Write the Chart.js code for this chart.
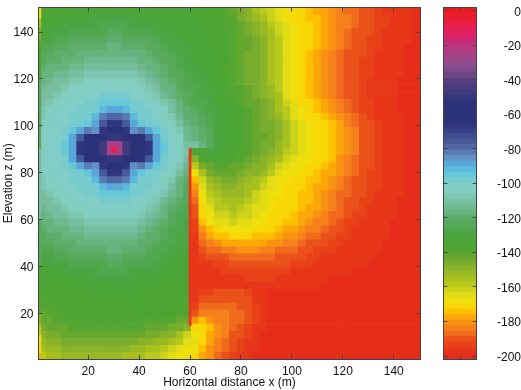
<!DOCTYPE html>
<html><head><meta charset="utf-8">
<style>html,body{margin:0;padding:0;background:#fff;width:521px;height:390px;overflow:hidden}canvas{position:absolute;top:0}</style>
<script src="https://cdn.jsdelivr.net/npm/chart.js@4"></script></head>
<body><canvas id="main" width="430" height="390" style="left:0"></canvas><canvas id="bar" width="91" height="390" style="left:430px"></canvas>
<script>
const xLabel="Horizontal distance x (m)", zLabel="Elevation z (m)";
const xTicks=[20,40,60,80,100,120,140], zTicks=[20,40,60,80,100,120,140];
const barTicks=[0,-20,-40,-60,-80,-100,-120,-140,-160,-180,-200];
const columnX=[2,5,8,11,14,17,20,23,26,29,32,35,38,41,44,47,50,53,56,59,62,65,68,71,74,77,80,83,86,89,92,95,98,101,104,107,110,113,116,119,122,125,128,131,134,137,140,143,146,149];
const rowZ=[149,146,143,140,137,134,131,128,125,122,119,116,113,110,107,104,101,98,95,92,89,86,83,80,77,74,71,68,65,62,59,56,53,50,47,44,41,38,35,32,29,26,23,20,17,14,11,8,5,2];
// levels below zero, left to right, one list per elevation
const z149=[136,135,135,135,134,134,134,133,133,133,133,133,134,134,134,134,134,134,134,134,134,135,137,138,140,143,147,150,154,159,163,166,169,171,173,175,177,179,181,184,186,188,190,192,194,196,197,198,198,199];
const z146=[135,134,134,133,132,132,131,131,131,131,131,131,131,132,132,133,133,134,134,134,134,135,136,138,139,141,145,148,151,156,161,165,168,170,172,174,176,178,180,183,185,188,190,192,194,195,197,198,198,199];
const z143=[134,133,132,131,130,130,129,129,128,128,128,128,129,129,130,131,132,133,133,134,134,135,136,137,139,140,143,146,149,153,158,163,166,168,171,173,175,178,180,183,185,188,190,192,194,195,197,198,198,199];
const z140=[132,131,130,129,128,127,127,126,126,125,125,126,126,127,128,129,130,131,132,133,133,134,135,137,138,140,142,145,148,151,156,161,165,167,170,173,175,178,180,184,186,189,191,192,194,196,197,198,198,199];
const z137=[130,129,127,126,125,124,124,123,123,122,122,123,123,124,125,127,129,130,131,132,133,134,135,137,138,139,142,144,147,150,155,159,164,167,170,173,175,178,181,184,187,190,191,193,194,196,197,198,198,199];
const z134=[128,126,125,124,122,121,121,120,120,119,119,120,120,121,123,125,127,129,130,131,132,133,135,136,138,140,142,144,147,150,154,159,164,167,170,173,176,179,182,185,188,190,192,193,195,196,197,198,199,199];
const z131=[125,124,122,121,120,119,118,117,117,117,117,117,118,119,121,123,125,127,129,131,132,133,134,136,138,140,142,145,147,150,154,159,164,167,170,174,177,180,183,186,189,191,192,194,196,197,198,198,199,199];
const z128=[123,121,120,118,117,116,115,114,114,114,114,114,115,117,119,121,123,125,128,130,132,133,134,136,138,140,142,145,147,150,154,159,165,167,171,174,177,181,184,187,189,191,193,194,196,197,198,198,199,199];
const z125=[121,119,117,116,114,113,112,111,111,111,111,111,112,114,116,119,122,124,127,129,131,132,134,136,139,140,143,145,147,150,155,160,165,168,172,175,178,181,184,187,190,192,193,195,196,197,198,198,199,199];
const z122=[118,117,115,113,112,110,109,108,108,108,108,108,109,111,114,117,120,123,125,128,130,131,133,135,138,140,142,145,147,150,155,160,165,168,172,175,178,182,185,188,190,192,194,195,197,198,198,198,199,199];
const z119=[116,114,112,111,109,108,106,106,105,105,105,105,106,108,111,114,118,121,124,127,129,131,133,135,138,140,142,145,147,149,154,160,166,169,173,176,179,182,185,188,190,192,194,196,197,198,198,199,199,199];
const z116=[114,112,110,108,106,105,104,103,102,101,101,102,103,105,108,112,116,119,123,126,128,130,132,134,137,139,141,144,146,148,152,158,165,168,172,175,178,181,184,187,189,192,194,196,197,198,198,199,199,199];
const z113=[112,110,108,106,104,102,101,100,99,98,98,99,100,102,105,109,114,118,122,125,127,129,131,133,136,138,140,143,145,148,151,157,164,167,171,174,177,180,183,186,189,192,194,196,197,198,198,199,199,199];
const z110=[110,108,106,103,102,100,99,98,96,94,94,96,98,99,101,104,107,112,119,124,126,128,130,132,135,137,139,142,144,147,150,155,162,166,170,172,175,178,181,184,187,190,193,195,197,198,198,199,199,199];
const z107=[108,106,104,102,100,98,98,97,91,88,88,91,97,98,99,102,106,111,117,122,124,126,129,131,134,136,138,140,143,146,149,154,160,166,169,171,174,177,180,183,186,189,193,195,197,198,198,199,199,199];
const z104=[107,105,103,101,99,98,97,92,83,78,78,83,92,97,98,100,104,109,115,120,122,125,128,130,133,136,138,140,143,145,148,152,158,164,168,170,172,175,178,181,185,188,191,194,196,197,198,198,199,199];
const z101=[106,104,102,100,98,97,96,90,75,68,68,75,90,96,97,98,102,106,112,118,120,123,126,129,132,135,137,139,142,145,147,149,155,161,166,169,171,173,176,179,183,186,189,192,195,197,198,198,199,199];
const z98=[105,103,100,98,96,90,82,85,66,60,60,66,85,82,90,96,99,103,108,115,118,122,125,129,132,134,137,139,142,145,147,149,155,161,166,168,171,173,176,179,182,185,189,192,194,196,198,198,199,199];
const z95=[105,102,100,97,90,75,64,62,62,50,50,62,62,64,75,90,97,101,106,113,116,120,124,129,132,134,136,139,142,144,146,149,155,161,166,168,170,173,176,179,182,185,189,192,194,196,198,198,199,199];
const z92=[104,102,100,96,88,68,60,58,48,25,25,48,58,60,68,88,96,100,104,110,112,118,124,130,133,135,137,140,143,145,147,151,156,162,166,168,170,172,175,179,182,185,189,192,194,196,198,198,199,199];
const z89=[104,102,100,96,88,68,60,58,48,25,25,48,58,60,68,88,96,100,104,108,135,132,131,133,135,136,139,141,144,146,149,153,158,163,166,168,170,172,175,179,182,185,189,192,194,196,198,198,199,199];
const z86=[105,102,100,97,90,75,64,62,62,50,50,62,62,64,75,90,97,101,106,112,150,138,135,135,136,138,141,143,146,148,151,156,161,165,167,169,171,173,176,180,183,186,189,192,194,196,198,198,199,199];
const z83=[105,103,100,98,96,90,82,85,66,60,60,66,85,82,90,96,99,102,108,114,160,147,142,139,140,142,144,146,148,150,154,161,165,167,169,171,173,175,178,181,184,187,190,192,194,196,197,198,199,199];
const z80=[106,104,102,100,98,97,96,90,75,68,68,75,90,96,97,98,101,106,112,117,168,155,147,143,142,143,146,148,150,152,158,164,167,169,170,172,174,177,179,182,185,188,190,193,195,196,197,198,199,199];
const z77=[107,105,103,101,99,98,97,92,83,78,78,83,92,97,98,100,104,109,118,122,175,163,152,148,145,147,150,152,154,158,164,167,169,171,172,174,176,178,181,184,186,189,191,193,195,196,197,198,199,199];
const z74=[108,106,104,102,100,98,98,97,91,88,88,91,97,98,99,102,106,111,118,123,180,165,156,151,148,149,151,154,157,161,165,168,170,171,173,175,177,179,182,185,187,190,192,194,195,197,198,198,199,199];
const z71=[110,108,106,103,102,100,99,98,96,94,94,96,98,99,101,104,107,113,119,124,183,167,160,155,152,151,153,157,161,165,167,169,171,172,174,175,178,180,183,186,188,190,192,194,196,197,198,198,199,199];
const z68=[112,110,108,106,104,102,101,100,99,98,98,99,100,102,105,109,113,117,121,125,187,169,163,158,155,154,155,159,163,165,168,170,171,173,175,176,178,181,183,186,189,191,193,195,197,198,198,199,199,199];
const z65=[114,112,110,108,106,105,104,103,102,101,101,102,103,105,108,112,116,120,124,127,190,170,165,160,158,157,158,161,164,166,168,170,172,173,175,177,179,181,184,187,190,192,194,196,197,198,198,199,199,199];
const z62=[116,114,112,111,109,108,106,106,105,105,105,105,106,108,111,115,119,123,126,128,192,172,167,163,161,160,161,163,165,168,170,172,173,175,177,178,181,183,186,188,191,194,195,197,197,198,198,199,199,199];
const z59=[118,117,115,113,112,110,109,108,108,108,108,108,109,111,114,118,121,125,127,129,194,175,168,165,164,163,164,165,167,169,171,173,175,175,178,180,183,185,188,190,193,195,197,197,198,198,199,199,199,199];
const z56=[121,119,117,116,114,113,112,111,111,111,111,111,112,114,117,120,123,126,128,129,195,180,174,171,169,168,168,169,170,171,173,175,177,179,181,183,185,187,190,191,194,196,197,198,198,198,199,199,199,199];
const z53=[123,121,120,118,117,116,115,114,114,114,114,114,115,117,120,122,125,127,129,130,196,184,177,175,174,173,173,173,174,175,176,178,180,182,184,186,188,190,192,193,195,196,197,198,198,198,199,199,199,199];
const z50=[125,124,122,121,120,119,118,117,117,117,117,117,118,120,122,124,126,128,130,130,197,187,183,181,179,178,178,178,179,179,180,182,184,185,187,189,191,192,194,195,196,197,198,198,198,199,199,199,199,199];
const z47=[128,126,125,124,122,121,121,120,120,119,119,120,121,122,124,126,128,130,131,131,197,190,188,186,184,183,182,182,182,183,184,186,187,188,190,192,193,194,195,196,197,197,198,198,198,199,199,199,199,199];
const z44=[130,129,127,126,125,124,124,123,123,122,122,123,124,125,126,128,130,131,132,132,198,194,192,190,189,187,186,186,186,187,187,189,190,191,192,194,195,196,196,197,197,198,198,198,199,199,199,199,199,199];
const z41=[132,131,130,129,128,127,127,126,126,125,125,126,126,127,128,130,131,132,133,133,198,197,196,195,193,191,190,190,190,190,190,190,192,193,194,195,196,197,197,198,198,198,198,199,199,199,199,199,199,199];
const z38=[134,133,132,131,130,130,129,129,128,128,128,128,129,130,130,131,132,133,134,134,198,198,197,196,195,194,193,193,193,193,193,194,195,196,196,197,197,198,198,198,198,199,199,199,199,199,199,199,199,199];
const z35=[135,134,134,133,132,132,131,131,131,131,131,131,131,132,132,133,134,134,135,135,198,198,198,197,197,196,196,195,195,195,195,196,197,197,198,198,198,198,199,199,199,199,199,199,199,199,199,199,199,199];
const z32=[137,136,135,135,134,134,134,133,133,133,133,133,133,134,134,134,135,135,135,135,198,198,197,196,196,196,196,196,196,196,197,197,197,198,198,198,198,199,199,199,199,199,199,199,199,199,199,199,199,199];
const z29=[138,137,136,136,135,135,135,134,134,134,134,134,134,135,135,135,135,135,135,135,197,195,193,192,191,191,192,194,197,198,199,199,199,199,199,199,199,199,199,199,199,199,199,199,199,199,199,199,199,199];
const z26=[139,138,137,136,136,136,135,135,135,135,135,135,135,135,135,136,136,136,135,135,196,190,189,189,189,189,190,192,196,198,199,199,199,199,199,199,199,199,199,199,199,199,199,199,199,199,199,199,199,199];
const z23=[140,139,138,137,137,136,136,136,136,136,136,136,136,136,136,137,137,137,136,135,195,188,187,187,187,188,189,190,195,198,199,199,199,199,199,199,199,199,199,199,199,199,199,199,199,199,199,199,199,199];
const z20=[142,140,139,138,138,137,137,137,137,137,137,137,137,137,137,138,138,138,138,137,190,183,183,184,185,186,188,190,195,198,199,199,199,199,199,199,199,199,199,199,199,199,199,199,199,199,199,199,199,199];
const z17=[144,142,140,140,139,139,138,138,138,138,138,138,138,139,139,140,140,141,142,142,182,176,180,183,185,186,188,191,195,198,199,199,199,199,199,199,199,199,199,199,199,199,199,199,199,199,199,199,199,199];
const z14=[146,144,143,142,141,141,140,140,140,140,140,140,141,141,142,142,143,145,147,150,172,170,176,181,184,187,190,193,197,198,199,199,199,199,199,199,199,199,199,199,199,199,199,199,199,199,199,199,199,199];
const z11=[150,147,145,144,143,143,143,142,142,142,142,143,143,144,145,146,148,150,155,162,168,170,178,182,185,189,192,195,198,199,199,199,199,199,199,199,199,199,199,199,199,199,199,199,199,199,199,199,199,199];
const z8=[152,149,148,147,146,146,146,145,145,145,146,146,147,148,149,151,153,156,160,165,166,172,179,183,186,190,193,196,198,199,199,199,199,199,199,199,199,199,199,199,199,199,199,199,199,199,199,199,199,199];
const z5=[155,152,151,150,149,149,149,149,149,149,150,150,151,152,154,156,159,163,166,168,168,174,180,184,187,191,194,197,198,199,199,199,199,199,199,199,199,199,199,199,199,199,199,199,199,199,199,199,199,199];
const z2=[160,155,154,153,153,152,152,152,152,153,153,154,155,156,158,160,163,166,168,168,172,177,182,186,189,193,196,198,199,199,199,199,199,199,199,199,199,199,199,199,199,199,199,199,199,199,199,199,199,199];
const fieldRows=[z149,z146,z143,z140,z137,z134,z131,z128,z125,z122,z119,z116,z113,z110,z107,z104,z101,z98,z95,z92,z89,z86,z83,z80,z77,z74,z71,z68,z65,z62,z59,z56,z53,z50,z47,z44,z41,z38,z35,z32,z29,z26,z23,z20,z17,z14,z11,z8,z5,z2];
// narrow features: left edge stripe, wall, source
const edgeZ=[150.5,146,142,136,120,90,60,40,26,20,15,11,7,3,0.5];
const edgeLevels=[168,155,145,138,125,110,125,135,140,148,160,168,172,178,182];
const wallX=[60,60], wallZ=[14.6,90.4], wallLevel=197;
const sourceX=[30], sourceZ=[90];
// colour map, every 5 units from 0 down to -200
const palette=[[230,30,30],[235,30,50],[232,30,80],[220,35,105],[190,50,125],[170,65,135],[150,75,140],[125,75,140],[95,65,130],[75,60,125],[55,55,125],[45,50,120],[40,50,120],[45,50,125],[55,65,135],[70,85,150],[80,105,165],[100,140,195],[85,175,225],[100,200,215],[130,205,200],[130,205,190],[122,192,165],[110,182,140],[96,174,110],[85,168,85],[76,165,66],[74,165,52],[85,165,50],[115,170,45],[140,180,40],[165,190,30],[190,205,30],[225,220,20],[245,225,10],[255,190,0],[250,150,15],[245,125,30],[235,85,25],[232,60,25],[230,45,25]];
const cMin=-201.7,cMax=1.85,nBands=64,bandH=(cMax-cMin)/nBands;
function bandColor(k){
  const v=cMin+(k+.5)*bandH, t=Math.min(40,Math.max(0,-v/5)), a=Math.floor(t), b=Math.min(40,a+1), f=t-a;
  const c=[0,1,2].map(j=>Math.round(palette[a][j]*(1-f)+palette[b][j]*f));
  return `rgb(${c})`;
}
function colorOf(level){
  const k=Math.min(nBands-1,Math.max(0,Math.floor((-level-cMin)/bandH)));
  return bandColor(k);
}
const FONT={family:"'Liberation Sans',Arial,sans-serif",size:12};
const INK='#111', EDGE='#444';
function fixed(list){return a=>{a.ticks=list.map(v=>({value:v}));};}
function noPad(s){s.paddingTop=0;s.paddingBottom=0;s.paddingLeft=0;s.paddingRight=0;}
function sized(h,w){return s=>{if(h!=null)s.height=h;if(w!=null)s.width=w;noPad(s);};}
function axis(pos,lo,hi,list,extra){
  return Object.assign({type:'linear',position:pos,offset:false,min:lo,max:hi,afterBuildTicks:fixed(list),
    grid:{drawOnChartArea:false,drawTicks:true,tickLength:-4,tickColor:EDGE,tickWidth:1,z:2,offset:false},
    border:{display:true,color:EDGE,width:1,z:2},
    ticks:{display:false,font:FONT,color:INK,autoSkip:false,maxRotation:0}},extra||{});
}
const bars=fieldRows.map((row,r)=>({type:'bar',order:1,
  data:row.map((v,i)=>({x:columnX[i],y:[rowZ[r]-1.5,rowZ[r]+(r?1.8:1.5)]})),
  backgroundColor:row.map(colorOf),borderWidth:0,barPercentage:1.1,categoryPercentage:1,grouped:false}));
const mainX=axis('bottom',0.5,150.5,xTicks,{afterFit:sized(31,null)});
mainX.ticks=Object.assign({},mainX.ticks,{display:true,padding:9});
mainX.title={display:true,text:xLabel,font:FONT,color:INK,padding:{top:0,bottom:0}};
const mainY=axis('left',0.5,150.5,zTicks,{afterFit:sized(null,38.5)});
mainY.ticks=Object.assign({},mainY.ticks,{display:true,padding:9,labelOffset:1});
mainY.title={display:true,text:zLabel,font:FONT,color:INK,padding:{top:1,bottom:0}};
new Chart(document.getElementById('main'),{
  data:{datasets:[
    {type:'scatter',order:0,data:sourceX.map((x,i)=>({x,y:sourceZ[i]})),pointStyle:'cross',pointRadius:3.6,borderColor:'rgb(235,30,70)',borderWidth:2.6,backgroundColor:'rgb(235,30,70)'},
    {type:'line',order:0,data:wallX.map((x,i)=>({x,y:wallZ[i]})),borderColor:colorOf(wallLevel),borderWidth:2.8,pointRadius:0,borderCapStyle:'butt'},
    {type:'line',order:0,data:edgeZ.map(z=>({x:1.1,y:z})),borderWidth:2.4,pointRadius:0,borderColor:colorOf(140),segment:{borderColor:c=>colorOf(edgeLevels[c.p0DataIndex])}},
    ...bars]},
  options:{responsive:false,animation:false,events:[],
    layout:{padding:{left:0,top:7.5,right:9.5,bottom:0}},
    plugins:{legend:{display:false},tooltip:{enabled:false}},
    scales:{x:mainX,y:mainY,
      x2:axis('top',0.5,150.5,xTicks,{afterFit:sized(0,null)}),
      y2:axis('right',0.5,150.5,zTicks,{afterFit:sized(null,0)})}}
});
const bandData=Array.from({length:nBands},(_,k)=>k);
const barY=axis('right',cMin,cMax,barTicks,{afterFit:sized(null,44.3)});
barY.ticks=Object.assign({},barY.ticks,{display:true,padding:17.5,crossAlign:'far',labelOffset:1.5});
function midAxis(pos,extra){return Object.assign({type:'category',position:pos,labels:['scale'],offset:true,
    grid:{drawOnChartArea:false,drawTicks:true,tickLength:-3,tickColor:EDGE,z:2,offset:false},
    border:{display:true,color:EDGE,z:2},ticks:{display:false}},extra);}
new Chart(document.getElementById('bar'),{
  data:{labels:['scale'],datasets:bandData.map(k=>({type:'bar',xAxisID:'x',yAxisID:'y',
    data:[[cMin+k*bandH,cMin+(k+1)*bandH+(k<nBands-1?0.3:0)]],backgroundColor:bandColor(k),borderWidth:0,barPercentage:1,categoryPercentage:1,grouped:false}))},
  options:{responsive:false,animation:false,events:[],
    layout:{padding:{left:0,top:7.5,right:0,bottom:0}},
    plugins:{legend:{display:false},tooltip:{enabled:false}},
    scales:{
      x:midAxis('bottom',{afterFit:sized(31,null)}),
      x2:midAxis('top',{afterFit:sized(0,null)}),
      y:barY,
      y2:axis('left',cMin,cMax,barTicks,{afterFit:sized(null,13.3)})}}
});
</script></body></html>
